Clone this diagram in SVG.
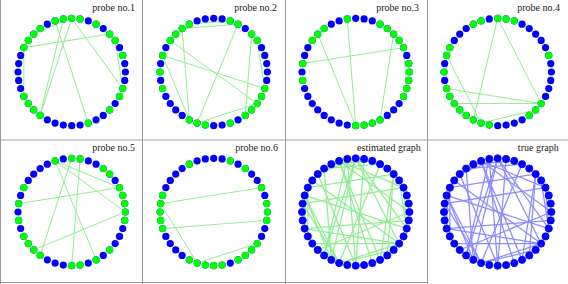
<svg xmlns="http://www.w3.org/2000/svg" xmlns:xlink="http://www.w3.org/1999/xlink" width="568" height="284" viewBox="0 0 568 284">
<style>
.b{fill:#0000ff}
.g{fill:#00ff00}
.pe line{stroke:#90ee90;stroke-width:1}
.ee{stroke:#90ee90;stroke-width:1.25}
.te{stroke:#8c8cff;stroke-width:1.25}
.ring2{stroke:#0000ff;stroke-width:0.8}
text{font-family:"Liberation Serif",serif;font-size:10px;text-anchor:end;fill:#222}
</style>
<defs>
<circle id="n0" cx="0" cy="-53.7" r="3.6"/>
<circle id="n1" cx="8.4" cy="-53.04" r="3.6"/>
<circle id="n2" cx="16.59" cy="-51.07" r="3.6"/>
<circle id="n3" cx="24.38" cy="-47.85" r="3.6"/>
<circle id="n4" cx="31.56" cy="-43.44" r="3.6"/>
<circle id="n5" cx="37.97" cy="-37.97" r="3.6"/>
<circle id="n6" cx="43.44" cy="-31.56" r="3.6"/>
<circle id="n7" cx="47.85" cy="-24.38" r="3.6"/>
<circle id="n8" cx="51.07" cy="-16.59" r="3.6"/>
<circle id="n9" cx="53.04" cy="-8.4" r="3.6"/>
<circle id="n10" cx="53.7" cy="0" r="3.6"/>
<circle id="n11" cx="53.04" cy="8.4" r="3.6"/>
<circle id="n12" cx="51.07" cy="16.59" r="3.6"/>
<circle id="n13" cx="47.85" cy="24.38" r="3.6"/>
<circle id="n14" cx="43.44" cy="31.56" r="3.6"/>
<circle id="n15" cx="37.97" cy="37.97" r="3.6"/>
<circle id="n16" cx="31.56" cy="43.44" r="3.6"/>
<circle id="n17" cx="24.38" cy="47.85" r="3.6"/>
<circle id="n18" cx="16.59" cy="51.07" r="3.6"/>
<circle id="n19" cx="8.4" cy="53.04" r="3.6"/>
<circle id="n20" cx="0" cy="53.7" r="3.6"/>
<circle id="n21" cx="-8.4" cy="53.04" r="3.6"/>
<circle id="n22" cx="-16.59" cy="51.07" r="3.6"/>
<circle id="n23" cx="-24.38" cy="47.85" r="3.6"/>
<circle id="n24" cx="-31.56" cy="43.44" r="3.6"/>
<circle id="n25" cx="-37.97" cy="37.97" r="3.6"/>
<circle id="n26" cx="-43.44" cy="31.56" r="3.6"/>
<circle id="n27" cx="-47.85" cy="24.38" r="3.6"/>
<circle id="n28" cx="-51.07" cy="16.59" r="3.6"/>
<circle id="n29" cx="-53.04" cy="8.4" r="3.6"/>
<circle id="n30" cx="-53.7" cy="0" r="3.6"/>
<circle id="n31" cx="-53.04" cy="-8.4" r="3.6"/>
<circle id="n32" cx="-51.07" cy="-16.59" r="3.6"/>
<circle id="n33" cx="-47.85" cy="-24.38" r="3.6"/>
<circle id="n34" cx="-43.44" cy="-31.56" r="3.6"/>
<circle id="n35" cx="-37.97" cy="-37.97" r="3.6"/>
<circle id="n36" cx="-31.56" cy="-43.44" r="3.6"/>
<circle id="n37" cx="-24.38" cy="-47.85" r="3.6"/>
<circle id="n38" cx="-16.59" cy="-51.07" r="3.6"/>
<circle id="n39" cx="-8.4" cy="-53.04" r="3.6"/>
<g id="ring">
<use xlink:href="#n0"/><use xlink:href="#n1"/><use xlink:href="#n2"/><use xlink:href="#n3"/><use xlink:href="#n4"/><use xlink:href="#n5"/><use xlink:href="#n6"/><use xlink:href="#n7"/><use xlink:href="#n8"/><use xlink:href="#n9"/>
<use xlink:href="#n10"/><use xlink:href="#n11"/><use xlink:href="#n12"/><use xlink:href="#n13"/><use xlink:href="#n14"/><use xlink:href="#n15"/><use xlink:href="#n16"/><use xlink:href="#n17"/><use xlink:href="#n18"/><use xlink:href="#n19"/>
<use xlink:href="#n20"/><use xlink:href="#n21"/><use xlink:href="#n22"/><use xlink:href="#n23"/><use xlink:href="#n24"/><use xlink:href="#n25"/><use xlink:href="#n26"/><use xlink:href="#n27"/><use xlink:href="#n28"/><use xlink:href="#n29"/>
<use xlink:href="#n30"/><use xlink:href="#n31"/><use xlink:href="#n32"/><use xlink:href="#n33"/><use xlink:href="#n34"/><use xlink:href="#n35"/><use xlink:href="#n36"/><use xlink:href="#n37"/><use xlink:href="#n38"/><use xlink:href="#n39"/>
</g>
<g id="graphEdges">
<line x1="0" y1="-53.7" x2="-31.56" y2="43.44"/>
<line x1="-8.4" y1="-53.04" x2="-31.56" y2="43.44"/>
<line x1="-16.59" y1="-51.07" x2="16.59" y2="51.07"/>
<line x1="0" y1="-53.7" x2="51.07" y2="16.59"/>
<line x1="43.44" y1="-31.56" x2="51.07" y2="16.59"/>
<line x1="-37.97" y1="-37.97" x2="0" y2="-53.7"/>
<line x1="-47.85" y1="-24.38" x2="37.97" y2="-37.97"/>
<line x1="-47.85" y1="-24.38" x2="-47.85" y2="24.38"/>
<line x1="-24.38" y1="-47.85" x2="16.59" y2="-51.07"/>
<line x1="-31.56" y1="-43.44" x2="24.38" y2="-47.85"/>
<line x1="24.38" y1="-47.85" x2="-16.59" y2="51.07"/>
<line x1="-31.56" y1="-43.44" x2="-24.38" y2="47.85"/>
<line x1="-51.07" y1="-16.59" x2="51.07" y2="16.59"/>
<line x1="-43.44" y1="-31.56" x2="43.44" y2="31.56"/>
<line x1="-51.07" y1="-16.59" x2="-24.38" y2="47.85"/>
<line x1="37.97" y1="-37.97" x2="31.56" y2="43.44"/>
<line x1="-16.59" y1="51.07" x2="43.44" y2="31.56"/>
<line x1="-8.4" y1="-53.04" x2="0" y2="53.7"/>
<line x1="-37.97" y1="-37.97" x2="0" y2="53.7"/>
<line x1="-53.04" y1="-8.4" x2="47.85" y2="-24.38"/>
<line x1="37.97" y1="-37.97" x2="24.38" y2="47.85"/>
<line x1="47.85" y1="-24.38" x2="51.07" y2="16.59"/>
<line x1="-43.44" y1="-31.56" x2="-53.04" y2="-8.4"/>
<line x1="0" y1="-53.7" x2="-24.38" y2="47.85"/>
<line x1="0" y1="-53.7" x2="43.44" y2="31.56"/>
<line x1="-51.07" y1="-16.59" x2="-51.07" y2="16.59"/>
<line x1="-51.07" y1="-16.59" x2="-16.59" y2="51.07"/>
<line x1="-51.07" y1="16.59" x2="43.44" y2="31.56"/>
<line x1="-43.44" y1="31.56" x2="43.44" y2="31.56"/>
<line x1="-16.59" y1="51.07" x2="37.97" y2="37.97"/>
<line x1="-16.59" y1="-51.07" x2="24.38" y2="47.85"/>
<line x1="-16.59" y1="-51.07" x2="47.85" y2="-24.38"/>
<line x1="-16.59" y1="-51.07" x2="53.7" y2="0"/>
<line x1="8.4" y1="-53.04" x2="0" y2="53.7"/>
<line x1="53.7" y1="0" x2="-37.97" y2="37.97"/>
<line x1="-51.07" y1="16.59" x2="53.04" y2="8.4"/>
<line x1="-53.04" y1="-8.4" x2="-16.59" y2="51.07"/>
</g>
</defs>
<rect width="568" height="284" fill="#fff"/>
<g id="frames">
<rect x="0" y="139" width="568" height="2" fill="#cfcfcf"/>
<line x1="0" y1="282.5" x2="428" y2="282.5" stroke="#999" stroke-width="1"/>
<line x1="0.5" y1="0" x2="0.5" y2="284" stroke="#999" stroke-width="1"/>
<line x1="142.5" y1="0" x2="142.5" y2="284" stroke="#999" stroke-width="1"/>
<line x1="285.5" y1="0" x2="285.5" y2="284" stroke="#999" stroke-width="1"/>
<line x1="427.5" y1="0" x2="427.5" y2="284" stroke="#999" stroke-width="1"/>
</g>

<g id="probe1" transform="translate(71.7,72)">
<g id="probe1-edges" class="pe">
<line x1="0" y1="-53.7" x2="-31.56" y2="43.44"/>
<line x1="-8.4" y1="-53.04" x2="-31.56" y2="43.44"/>
<line x1="-16.59" y1="-51.07" x2="16.59" y2="51.07"/>
<line x1="0" y1="-53.7" x2="51.07" y2="16.59"/>
<line x1="43.44" y1="-31.56" x2="51.07" y2="16.59"/>
<line x1="-37.97" y1="-37.97" x2="0" y2="-53.7"/>
<line x1="-47.85" y1="-24.38" x2="37.97" y2="-37.97"/>
<line x1="-47.85" y1="-24.38" x2="-47.85" y2="24.38"/>
</g>
<g id="probe1-nodes" class="b">
<use xlink:href="#ring"/>
<g class="g"><use xlink:href="#n0"/><use xlink:href="#n1"/><use xlink:href="#n3"/><use xlink:href="#n5"/><use xlink:href="#n6"/><use xlink:href="#n8"/><use xlink:href="#n12"/><use xlink:href="#n13"/><use xlink:href="#n15"/><use xlink:href="#n18"/><use xlink:href="#n24"/><use xlink:href="#n25"/><use xlink:href="#n26"/><use xlink:href="#n27"/><use xlink:href="#n33"/><use xlink:href="#n34"/><use xlink:href="#n35"/><use xlink:href="#n36"/><use xlink:href="#n38"/><use xlink:href="#n39"/></g>
</g>
<text x="63.3" y="-61.5">probe no.1</text>
</g>

<g id="probe2" transform="translate(213.7,72)">
<g id="probe2-edges" class="pe">
<line x1="-24.38" y1="-47.85" x2="16.59" y2="-51.07"/>
<line x1="-31.56" y1="-43.44" x2="24.38" y2="-47.85"/>
<line x1="24.38" y1="-47.85" x2="-16.59" y2="51.07"/>
<line x1="-31.56" y1="-43.44" x2="-24.38" y2="47.85"/>
<line x1="-51.07" y1="-16.59" x2="51.07" y2="16.59"/>
<line x1="-43.44" y1="-31.56" x2="43.44" y2="31.56"/>
<line x1="-51.07" y1="-16.59" x2="-24.38" y2="47.85"/>
<line x1="43.44" y1="-31.56" x2="51.07" y2="16.59"/>
<line x1="37.97" y1="-37.97" x2="31.56" y2="43.44"/>
<line x1="-16.59" y1="51.07" x2="43.44" y2="31.56"/>
</g>
<g id="probe2-nodes" class="b">
<use xlink:href="#ring"/>
<g class="g"><use xlink:href="#n2"/><use xlink:href="#n3"/><use xlink:href="#n5"/><use xlink:href="#n6"/><use xlink:href="#n12"/><use xlink:href="#n13"/><use xlink:href="#n14"/><use xlink:href="#n15"/><use xlink:href="#n16"/><use xlink:href="#n18"/><use xlink:href="#n21"/><use xlink:href="#n22"/><use xlink:href="#n23"/><use xlink:href="#n28"/><use xlink:href="#n30"/><use xlink:href="#n32"/><use xlink:href="#n34"/><use xlink:href="#n35"/><use xlink:href="#n36"/><use xlink:href="#n37"/></g>
</g>
<text x="63.3" y="-61.5">probe no.2</text>
</g>

<g id="probe3" transform="translate(355.7,72)">
<g id="probe3-edges" class="pe">
<line x1="-8.4" y1="-53.04" x2="0" y2="53.7"/>
<line x1="-37.97" y1="-37.97" x2="0" y2="53.7"/>
<line x1="-53.04" y1="-8.4" x2="47.85" y2="-24.38"/>
<line x1="37.97" y1="-37.97" x2="24.38" y2="47.85"/>
<line x1="47.85" y1="-24.38" x2="51.07" y2="16.59"/>
<line x1="-43.44" y1="-31.56" x2="-53.04" y2="-8.4"/>
</g>
<g id="probe3-nodes" class="b">
<use xlink:href="#ring"/>
<g class="g"><use xlink:href="#n3"/><use xlink:href="#n4"/><use xlink:href="#n5"/><use xlink:href="#n6"/><use xlink:href="#n7"/><use xlink:href="#n9"/><use xlink:href="#n10"/><use xlink:href="#n11"/><use xlink:href="#n12"/><use xlink:href="#n13"/><use xlink:href="#n17"/><use xlink:href="#n18"/><use xlink:href="#n19"/><use xlink:href="#n20"/><use xlink:href="#n29"/><use xlink:href="#n31"/><use xlink:href="#n34"/><use xlink:href="#n35"/><use xlink:href="#n36"/><use xlink:href="#n39"/></g>
</g>
<text x="63.3" y="-61.5">probe no.3</text>
</g>

<g id="probe4" transform="translate(497.7,72)">
<g id="probe4-edges" class="pe">
<line x1="0" y1="-53.7" x2="-24.38" y2="47.85"/>
<line x1="0" y1="-53.7" x2="43.44" y2="31.56"/>
<line x1="-51.07" y1="-16.59" x2="-51.07" y2="16.59"/>
<line x1="-51.07" y1="-16.59" x2="-16.59" y2="51.07"/>
<line x1="-51.07" y1="16.59" x2="43.44" y2="31.56"/>
<line x1="-43.44" y1="31.56" x2="43.44" y2="31.56"/>
<line x1="-16.59" y1="51.07" x2="37.97" y2="37.97"/>
</g>
<g id="probe4-nodes" class="b">
<use xlink:href="#ring"/>
<g class="g"><use xlink:href="#n0"/><use xlink:href="#n1"/><use xlink:href="#n2"/><use xlink:href="#n8"/><use xlink:href="#n14"/><use xlink:href="#n15"/><use xlink:href="#n16"/><use xlink:href="#n21"/><use xlink:href="#n22"/><use xlink:href="#n23"/><use xlink:href="#n24"/><use xlink:href="#n25"/><use xlink:href="#n26"/><use xlink:href="#n27"/><use xlink:href="#n28"/><use xlink:href="#n30"/><use xlink:href="#n32"/><use xlink:href="#n33"/><use xlink:href="#n37"/><use xlink:href="#n38"/></g>
</g>
<text x="62.3" y="-61.5">probe no.4</text>
</g>

<g id="probe5" transform="translate(71.7,212)">
<g id="probe5-edges" class="pe">
<line x1="-16.59" y1="-51.07" x2="24.38" y2="47.85"/>
<line x1="-16.59" y1="-51.07" x2="47.85" y2="-24.38"/>
<line x1="-16.59" y1="-51.07" x2="53.7" y2="0"/>
<line x1="0" y1="-53.7" x2="-31.56" y2="43.44"/>
<line x1="8.4" y1="-53.04" x2="0" y2="53.7"/>
<line x1="-53.04" y1="-8.4" x2="47.85" y2="-24.38"/>
<line x1="53.7" y1="0" x2="-37.97" y2="37.97"/>
</g>
<g id="probe5-nodes" class="b">
<use xlink:href="#ring"/>
<g class="g"><use xlink:href="#n0"/><use xlink:href="#n1"/><use xlink:href="#n4"/><use xlink:href="#n5"/><use xlink:href="#n7"/><use xlink:href="#n8"/><use xlink:href="#n9"/><use xlink:href="#n10"/><use xlink:href="#n11"/><use xlink:href="#n15"/><use xlink:href="#n17"/><use xlink:href="#n19"/><use xlink:href="#n20"/><use xlink:href="#n24"/><use xlink:href="#n25"/><use xlink:href="#n26"/><use xlink:href="#n27"/><use xlink:href="#n29"/><use xlink:href="#n31"/><use xlink:href="#n33"/><use xlink:href="#n38"/></g>
</g>
<text x="63.3" y="-61.5">probe no.5</text>
</g>

<g id="probe6" transform="translate(213.7,212)">
<g id="probe6-edges" class="pe">
<line x1="-53.04" y1="-8.4" x2="47.85" y2="-24.38"/>
<line x1="-51.07" y1="16.59" x2="53.04" y2="8.4"/>
<line x1="-53.04" y1="-8.4" x2="-16.59" y2="51.07"/>
<line x1="-16.59" y1="51.07" x2="43.44" y2="31.56"/>
</g>
<g id="probe6-nodes" class="b">
<use xlink:href="#ring"/>
<g class="g"><use xlink:href="#n2"/><use xlink:href="#n4"/><use xlink:href="#n7"/><use xlink:href="#n9"/><use xlink:href="#n10"/><use xlink:href="#n11"/><use xlink:href="#n14"/><use xlink:href="#n15"/><use xlink:href="#n16"/><use xlink:href="#n17"/><use xlink:href="#n19"/><use xlink:href="#n20"/><use xlink:href="#n21"/><use xlink:href="#n22"/><use xlink:href="#n23"/><use xlink:href="#n28"/><use xlink:href="#n29"/><use xlink:href="#n30"/><use xlink:href="#n31"/><use xlink:href="#n32"/><use xlink:href="#n37"/></g>
</g>
<text x="64.3" y="-61.5">probe no.6</text>
</g>

<g id="estimated" transform="translate(355.7,212)">
<g id="estimated-edges" class="ee"><use xlink:href="#graphEdges"/></g>
<g id="estimated-nodes" class="b ring2"><use xlink:href="#ring"/></g>
<text x="65" y="-61.5">estimated graph</text>
</g>

<g id="truegraph" transform="translate(497.7,212)">
<g id="true-edges" class="te"><use xlink:href="#graphEdges"/></g>
<g id="true-nodes" class="b ring2"><use xlink:href="#ring"/></g>
<text x="61" y="-61.5">true graph</text>
</g>
</svg>
